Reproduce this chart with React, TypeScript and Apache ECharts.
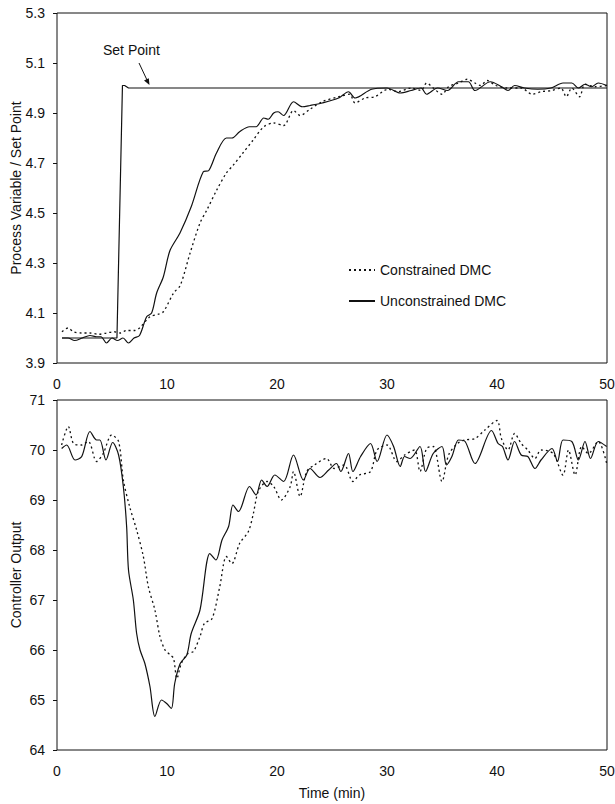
import React, { useEffect, useRef } from "react";
import * as echarts from "echarts";

// ---- Top plot: process variable / set point ----
const spTime = [0.45, 5.45, 5.95, 6.15, 6.5, 50];
const spValue = [4.0, 4.0, 5.01, 5.01, 5.0, 5.0];

const pvUncTime = [0.45, 1.0, 1.6, 2.3, 3.0, 3.6, 4.0, 4.5, 5.0, 5.5, 6.0, 6.5, 7.0, 7.5, 8.15, 8.6, 9.06, 9.67, 10.27, 11.18, 12.2, 13.3, 13.8, 14.5, 15.4, 15.9, 16.6, 17.5, 18.1, 18.8, 19.2, 19.7, 20.1, 20.6, 21.5, 22.3, 23.0, 24.1, 25.6, 26.5, 27.1, 28.6, 30.0, 31.2, 32.2, 33.1, 33.6, 34.6, 35.5, 36.5, 37.4, 38.0, 39.4, 40.4, 41.0, 41.6, 42.5, 43.7, 44.9, 46.0, 46.8, 47.4, 48.0, 48.6, 49.2, 50.0];
const pvUncValue = [4.0, 4.0, 3.99, 4.0, 4.01, 4.005, 4.005, 3.98, 4.0, 3.99, 4.0, 3.98, 4.0, 4.01, 4.085, 4.1, 4.18, 4.245, 4.35, 4.42, 4.525, 4.665, 4.67, 4.74, 4.8, 4.8, 4.825, 4.845, 4.845, 4.88, 4.875, 4.9, 4.905, 4.89, 4.945, 4.925, 4.93, 4.94, 4.96, 4.985, 4.96, 4.995, 5.0, 4.98, 4.99, 5.0, 4.975, 5.0, 4.99, 5.025, 5.025, 4.99, 5.025, 5.005, 4.99, 5.01, 5.0, 4.995, 5.0, 5.02, 5.02, 5.0, 5.015, 5.005, 5.02, 5.01];

const pvConTime = [0.45, 1.0, 1.5, 2.2, 3.0, 3.8, 4.5, 5.2, 5.8, 6.3, 7.0, 7.5, 8.45, 9.2, 9.67, 10.6, 11.2, 12.1, 13.0, 13.6, 14.5, 15.4, 16.0, 16.9, 17.8, 18.8, 19.7, 20.6, 21.5, 22.1, 23.0, 24.1, 25.6, 26.6, 27.1, 28.0, 28.9, 30.1, 31.0, 32.2, 33.1, 33.6, 34.2, 35.0, 35.6, 36.5, 37.3, 38.0, 38.5, 39.1, 39.9, 40.9, 42.2, 43.2, 44.0, 45.0, 45.8, 46.3, 46.8, 47.5, 48.0, 48.9, 50.0];
const pvConValue = [4.025, 4.04, 4.025, 4.02, 4.02, 4.015, 4.02, 4.025, 4.02, 4.03, 4.03, 4.04, 4.085, 4.095, 4.105, 4.18, 4.21, 4.34, 4.46, 4.51, 4.59, 4.66, 4.69, 4.74, 4.79, 4.845, 4.86, 4.85, 4.91, 4.89, 4.915, 4.945, 4.965, 4.975, 4.94, 4.96, 4.965, 4.995, 4.985, 5.0, 4.99, 5.02, 5.0, 4.975, 5.005, 5.02, 5.035, 5.02, 5.01, 5.03, 5.01, 5.0, 5.0, 4.975, 4.985, 4.99, 5.0, 4.965, 5.0, 4.965, 5.015, 5.005, 5.01];

// ---- Bottom plot: controller output ----
const coUncTime = [0.42, 0.88, 1.64, 2.25, 3.0, 3.6, 3.9, 4.45, 5.06, 5.6, 6.03, 6.33, 6.5, 6.94, 7.24, 7.55, 7.99, 8.45, 8.9, 9.5, 9.97, 10.4, 10.7, 11.2, 11.8, 12.2, 13.0, 13.9, 14.45, 15.0, 15.6, 16.0, 16.5, 17.5, 18.1, 18.6, 19.1, 19.8, 20.6, 21.5, 22.4, 23.0, 23.9, 24.7, 25.4, 25.8, 26.5, 26.9, 27.6, 28.5, 29.1, 30.0, 30.6, 31.2, 31.6, 32.1, 33.0, 33.5, 34.2, 35.0, 35.4, 35.9, 36.5, 37.1, 38.0, 39.5, 40.1, 40.5, 41.0, 41.6, 42.2, 42.8, 43.45, 44.0, 45.0, 45.5, 46.0, 46.8, 47.4, 48.0, 48.5, 49.2, 49.97];
const coUncValue = [70.03, 70.1, 69.8, 69.87, 70.37, 70.2, 70.2, 69.8, 70.15, 69.9, 69.27, 68.47, 67.6, 67.0, 66.33, 66.0, 65.73, 65.27, 64.67, 65.0, 64.93, 64.83, 65.33, 65.73, 65.9, 66.33, 66.8, 67.93, 67.8, 68.2, 68.47, 68.9, 68.77, 69.27, 69.1, 69.4, 69.27, 69.5, 69.37, 69.9, 69.4, 69.63, 69.45, 69.6, 69.73, 69.57, 69.93, 69.57, 69.87, 70.13, 69.77, 70.3, 70.07, 69.67, 69.87, 69.83, 70.07, 69.57, 69.93, 70.07, 69.7, 69.87, 70.2, 70.17, 69.73, 70.39, 70.13, 70.07, 69.8, 70.17, 69.9, 69.87, 69.63, 69.8, 70.03, 69.77, 70.2, 70.17, 69.8, 70.17, 69.83, 70.17, 70.07];

const coConTime = [0.42, 1.03, 1.5, 2.2, 2.85, 3.6, 4.2, 4.97, 5.6, 6.03, 6.6, 7.24, 7.85, 8.3, 8.9, 9.36, 9.82, 10.3, 10.6, 10.9, 11.3, 11.9, 12.4, 13.0, 13.4, 14.1, 14.8, 15.4, 15.9, 16.6, 17.4, 17.85, 18.3, 19.1, 19.7, 20.4, 21.2, 21.5, 22.1, 22.7, 23.4, 24.5, 25.2, 26.1, 26.9, 27.5, 28.5, 29.1, 30.0, 30.9, 31.6, 32.5, 33.0, 33.6, 34.2, 35.0, 35.6, 36.4, 37.1, 38.0, 38.9, 40.0, 40.4, 41.0, 41.6, 42.2, 42.8, 43.45, 44.0, 45.1, 46.0, 46.5, 47.1, 47.7, 48.3, 49.2, 49.97];
const coConValue = [70.1, 70.47, 70.13, 70.1, 70.17, 69.77, 69.93, 70.3, 70.17, 69.4, 68.87, 68.4, 67.87, 67.27, 66.8, 66.27, 66.0, 65.9, 65.83, 65.43, 65.73, 65.93, 65.97, 66.27, 66.53, 66.63, 67.27, 67.87, 67.73, 68.13, 68.37, 68.73, 69.17, 69.37, 69.27, 69.0, 69.27, 69.57, 69.07, 69.57, 69.7, 69.83, 69.63, 69.7, 69.37, 69.5, 69.57, 70.0, 70.1, 69.77, 69.9, 70.0, 69.57, 70.03, 70.07, 69.37, 69.9, 70.13, 70.2, 70.23, 70.4, 70.59, 70.23, 70.0, 70.33, 70.13, 70.0, 69.83, 70.0, 69.93, 69.5, 70.0, 69.5, 70.07, 69.93, 70.17, 69.73];

const xTicks = [0, 10, 20, 30, 40, 50];
const legendNames = ["Constrained DMC", "Unconstrained DMC"];

const zip = (t: number[], v: number[]) => t.map((x, i) => [x, v[i]]);

const FONT = "'Liberation Sans', Arial, sans-serif";
const INK = "#111";

export default function App() {
  const ref = useRef<HTMLDivElement>(null);
  useEffect(() => {
    if (!ref.current) return;
    const chart = echarts.init(ref.current, undefined, { renderer: "svg" });
    const axisLabel = { color: INK, fontSize: 14, fontFamily: FONT, margin: 12 };
    const xAxisBase = {
      type: "value" as const,
      min: xTicks[0],
      max: xTicks[xTicks.length - 1],
      interval: 10,
      axisLine: { show: false },
      axisTick: { show: false },
      splitLine: { show: false },
      axisLabel: { ...axisLabel, margin: 14 },
    };
    const yAxisBase = {
      type: "value" as const,
      axisLine: { show: false },
      axisTick: { show: true, inside: false, length: 4, lineStyle: { color: INK } },
      splitLine: { show: false },
      nameLocation: "middle" as const,
      nameRotate: 90,
      nameMoveOverlap: false,
      nameTextStyle: { color: INK, fontSize: 14, fontFamily: FONT },
    };
    const solid = { color: INK, width: 1.2, type: "solid" as const };
    const dotted = { color: INK, width: 1.3, type: [2, 3] as any };
    const gridBase = {
      left: 57,
      right: 8,
      height: 350,
      show: true,
      borderColor: INK,
      borderWidth: 1,
      containLabel: false,
      outerBoundsMode: "none",
    };
    chart.setOption({
      animation: false,
      backgroundColor: "#fff",
      textStyle: { fontFamily: FONT },
      grid: [
        { ...gridBase, top: 13 },
        { ...gridBase, top: 400 },
      ],
      xAxis: [
        { ...xAxisBase, gridIndex: 0 },
        {
          ...xAxisBase,
          gridIndex: 1,
          name: "Time (min)",
          nameLocation: "middle",
          nameGap: 36,
          nameTextStyle: { color: INK, fontSize: 14, fontFamily: FONT },
        },
      ],
      yAxis: [
        {
          ...yAxisBase,
          gridIndex: 0,
          min: 3.9,
          max: 5.3,
          interval: 0.2,
          name: "Process Variable / Set Point",
          nameGap: 34,
          axisLabel: { ...axisLabel, formatter: (v: number) => v.toFixed(1) },
        },
        {
          ...yAxisBase,
          gridIndex: 1,
          min: 64,
          max: 71,
          interval: 1,
          name: "Controller Output",
          nameGap: 34,
          axisLabel: { ...axisLabel },
        },
      ],
      legend: {
        orient: "vertical",
        left: 343,
        top: 258,
        itemWidth: 26,
        itemHeight: 14,
        itemGap: 17,
        data: legendNames,
        itemStyle: { opacity: 0 },
        textStyle: { color: INK, fontSize: 14, fontFamily: FONT },
        selectedMode: false,
      },
      series: [
        {
          name: "Set Point",
          type: "line",
          xAxisIndex: 0,
          yAxisIndex: 0,
          data: zip(spTime, spValue),
          showSymbol: false,
          symbol: "none",
          lineStyle: solid,
        },
        {
          name: legendNames[0],
          type: "line",
          xAxisIndex: 0,
          yAxisIndex: 0,
          data: zip(pvConTime, pvConValue),
          smooth: 0.3,
          showSymbol: false,
          symbol: "none",
          lineStyle: dotted,
          itemStyle: { color: INK },
        },
        {
          name: legendNames[1],
          type: "line",
          xAxisIndex: 0,
          yAxisIndex: 0,
          data: zip(pvUncTime, pvUncValue),
          smooth: 0.3,
          showSymbol: false,
          symbol: "none",
          lineStyle: solid,
          itemStyle: { color: INK },
        },
        {
          name: legendNames[0],
          type: "line",
          xAxisIndex: 1,
          yAxisIndex: 1,
          data: zip(coConTime, coConValue),
          smooth: 0.3,
          showSymbol: false,
          symbol: "none",
          lineStyle: dotted,
          itemStyle: { color: INK },
        },
        {
          name: legendNames[1],
          type: "line",
          xAxisIndex: 1,
          yAxisIndex: 1,
          data: zip(coUncTime, coUncValue),
          smooth: 0.3,
          showSymbol: false,
          symbol: "none",
          lineStyle: solid,
          itemStyle: { color: INK },
        },
      ],
      graphic: [
        {
          type: "text",
          left: 103,
          top: 43,
          style: { text: "Set Point", fill: INK, fontSize: 14, fontFamily: FONT },
        },
        {
          type: "line",
          shape: { x1: 139, y1: 63, x2: 147, y2: 80 },
          style: { stroke: INK, lineWidth: 1 },
        },
        {
          type: "polygon",
          shape: { points: [[149.5, 85], [144, 80.5], [148.8, 78.2]] },
          style: { fill: INK },
        },
      ],
    });
    return () => chart.dispose();
  }, []);
  return (
    <div
      ref={ref}
      style={{ position: "fixed", left: 0, top: 0, width: 615, height: 804, background: "#fff" }}
    />
  );
}
